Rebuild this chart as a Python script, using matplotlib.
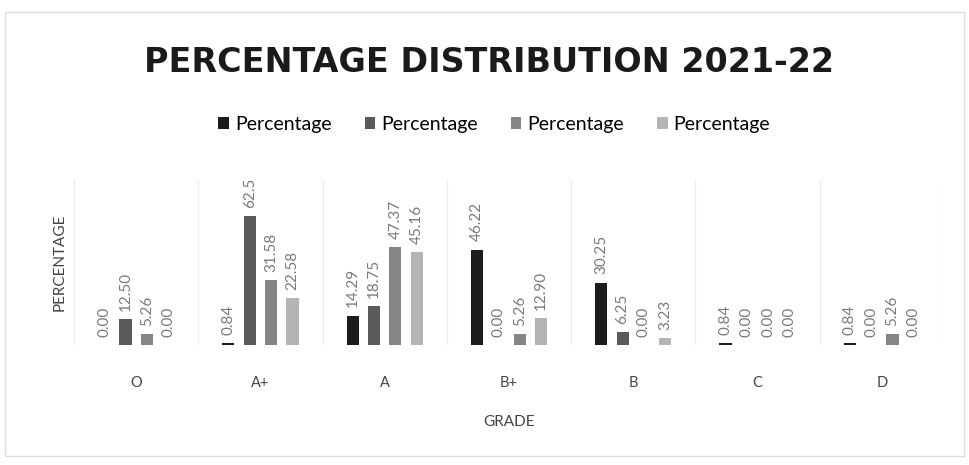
import matplotlib
matplotlib.use("Agg")
import matplotlib.pyplot as plt
import numpy as np

grades = ["O", "A+", "A", "B+", "B", "C", "D"]
series_names = ["Percentage", "Percentage", "Percentage", "Percentage"]
s1 = [0.00, 0.84, 14.29, 46.22, 30.25, 0.84, 0.84]
s2 = [12.50, 62.5, 18.75, 0.00, 6.25, 0.00, 0.00]
s3 = [5.26, 31.58, 47.37, 5.26, 0.00, 0.00, 5.26]
s4 = [0.00, 22.58, 45.16, 12.90, 3.23, 0.00, 0.00]
label_text = [
    ["0.00", "0.84", "14.29", "46.22", "30.25", "0.84", "0.84"],
    ["12.50", "62.5", "18.75", "0.00", "6.25", "0.00", "0.00"],
    ["5.26", "31.58", "47.37", "5.26", "0.00", "0.00", "5.26"],
    ["0.00", "22.58", "45.16", "12.90", "3.23", "0.00", "0.00"],
]

plt.rcParams['font.family'] = ['Lato', 'DejaVu Sans']
colors = ["#1c1c1c", "#5a5a5a", "#858585", "#b4b4b4"]

fig = plt.figure(figsize=(9.69, 4.65), dpi=100)
ax = fig.add_axes([74 / 969, 1 - 345 / 465, 870 / 969, 165 / 465])

ind = np.arange(len(grades))
step = 0.172
width = 0.098
for k, vals in enumerate([s1, s2, s3, s4]):
    xs = ind + (k - 1.5) * step
    ax.bar(xs, vals, width, color=colors[k], label=series_names[k])
    for x, v, t in zip(xs, vals, label_text[k]):
        ax.text(x, v + 4.0, t, rotation=90, ha='center', va='bottom',
                fontsize=11, color="#7a7a7a")

ax.set_xlim(-0.5, len(grades) - 0.5)
ax.set_ylim(0, 80)
for s in ax.spines.values():
    s.set_visible(False)
for i in range(len(grades) + 1):
    ax.axvline(i - 0.5, color="#ececec", lw=0.8, zorder=0)
ax.set_yticks([])
ax.set_xticks(ind)
ax.set_xticklabels(grades, fontsize=10.5, color="#444444")
ax.tick_params(axis='x', length=0, pad=22)
ax.set_xlabel("GRADE", fontsize=11, color="#444444", labelpad=18)
ax.set_ylabel("PERCENTAGE", fontsize=11, color="#444444", labelpad=5)

fig.text(0.505, 0.866, "PERCENTAGE DISTRIBUTION 2021-22", ha='center', va='center',
         fontsize=24, fontweight='bold', color="#1a1a1a",
         family=['DejaVu Sans'])
fig.legend(loc='center', bbox_to_anchor=(0.51, 0.732), ncol=4, frameon=False,
           fontsize=14, handlelength=0.55, handleheight=0.55, columnspacing=1.7,
           handletextpad=0.3)

fig.patches.append(plt.Rectangle((0.005, 0.02), 0.99, 0.955, transform=fig.transFigure,
                                 fill=False, edgecolor="#dddddd", lw=1))
fig.savefig("out.png", dpi=100)
